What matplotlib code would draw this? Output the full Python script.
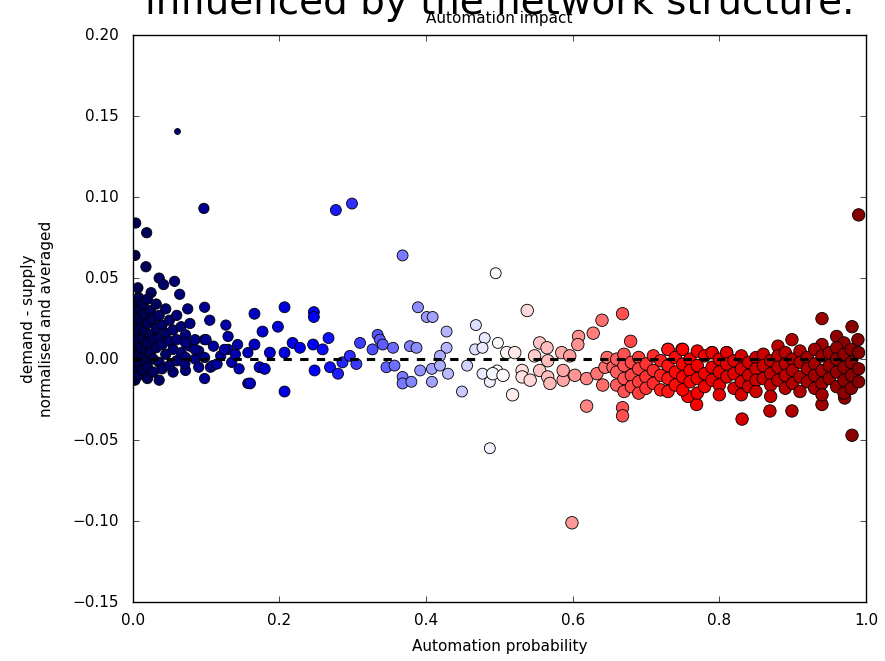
import matplotlib
matplotlib.use('Agg')
import matplotlib.pyplot as plt
import numpy as np

plt.style.use('classic')

# low automation probability (dark blue cluster)
x_low = [0.004, 0.019, 0.003, 0.018, 0.036, 0.057, 0.007, 0.025, 0.064, 0.042, 0.075, 0.098,
         0.097, 0.036, 0.055, 0.003, 0.098, 0.106,
         0.002, 0.002, 0.002, 0.002, 0.002,
         0.005, 0.005, 0.005, 0.005,
         0.008, 0.008, 0.008, 0.008, 0.008,
         0.011, 0.011, 0.011, 0.011,
         0.014, 0.014, 0.014, 0.014, 0.014,
         0.017, 0.017, 0.017, 0.017,
         0.020, 0.020, 0.020, 0.020, 0.020,
         0.024, 0.024, 0.024,
         0.028, 0.028, 0.028, 0.028,
         0.032, 0.032, 0.032,
         0.036, 0.036, 0.036,
         0.040, 0.040, 0.040,
         0.045, 0.045, 0.045,
         0.050, 0.050, 0.050,
         0.055, 0.055,
         0.060, 0.060, 0.060,
         0.066, 0.066,
         0.072, 0.072, 0.072,
         0.078, 0.078,
         0.085, 0.085,
         0.090, 0.090,
         0.072, 0.085, 0.098, 0.098, 0.109, 0.130, 0.071,
         0.105, 0.127, 0.130, 0.143, 0.157, 0.157, 0.110, 0.120, 0.115, 0.135, 0.140,
         0.100, 0.125, 0.145]
y_low = [0.084, 0.078, 0.064, 0.057, 0.050, 0.048, 0.044, 0.041, 0.040, 0.046, 0.031, 0.032,
         0.093, -0.013, -0.008, -0.013, -0.012, -0.005,
         0.035, 0.022, 0.010, 0.000, -0.008,
         0.030, 0.016, 0.005, -0.004,
         0.038, 0.025, 0.012, 0.002, -0.010,
         0.031, 0.019, 0.007, -0.003,
         0.034, 0.024, 0.013, 0.001, -0.007,
         0.028, 0.017, 0.006, -0.002,
         0.037, 0.022, 0.010, -0.005, -0.012,
         0.030, 0.015, 0.004,
         0.025, 0.012, 0.000, -0.008,
         0.034, 0.019, 0.007,
         0.027, 0.013, -0.002,
         0.021, 0.009, -0.006,
         0.031, 0.016, 0.003,
         0.024, 0.011, -0.004,
         0.018, 0.006,
         0.027, 0.012, -0.001,
         0.020, 0.004,
         0.015, 0.001, -0.007,
         0.022, 0.008,
         0.012, 0.000,
         0.005, -0.005,
         0.010, 0.006, 0.012, 0.001, -0.004, 0.006, -0.003,
         0.024, 0.021, 0.014, 0.009, 0.004, -0.015, 0.008, 0.002, -0.003, -0.002, 0.003,
         0.012, 0.006, -0.006]

# single small outlier
x_small = [0.060]
y_small = [0.141]

# blue to white region
x_mid = [0.277, 0.299, 0.166, 0.207, 0.177, 0.198, 0.247, 0.247, 0.267, 0.310, 0.334, 0.218,
         0.228, 0.166, 0.187, 0.207, 0.246, 0.259, 0.173, 0.180, 0.248, 0.269, 0.280, 0.286,
         0.296, 0.305, 0.207, 0.160, 0.327,
         0.368, 0.495, 0.389, 0.401, 0.409, 0.428, 0.468, 0.480, 0.337, 0.341, 0.355, 0.378,
         0.387, 0.428, 0.419, 0.467, 0.477, 0.346, 0.357, 0.368, 0.368, 0.380, 0.392, 0.408,
         0.408, 0.419, 0.430, 0.456, 0.449, 0.477, 0.487, 0.497, 0.487, 0.498]
y_mid = [0.092, 0.096, 0.028, 0.032, 0.017, 0.020, 0.029, 0.026, 0.013, 0.010, 0.015, 0.010,
         0.007, 0.009, 0.004, 0.004, 0.009, 0.006, -0.005, -0.006, -0.007, -0.005, -0.009, -0.002,
         0.002, -0.003, -0.020, -0.015, 0.006,
         0.064, 0.053, 0.032, 0.026, 0.026, 0.017, 0.021, 0.013, 0.012, 0.009, 0.007, 0.008,
         0.007, 0.007, 0.002, 0.006, 0.007, -0.005, -0.004, -0.011, -0.015, -0.014, -0.007, -0.006,
         -0.014, -0.004, -0.009, -0.004, -0.020, -0.009, -0.014, -0.007, -0.055, 0.010]

# white to red region
x_high = [0.538, 0.640, 0.628, 0.608, 0.607, 0.555, 0.565, 0.510, 0.521, 0.548, 0.566, 0.585,
          0.596, 0.491, 0.505, 0.531, 0.531, 0.542, 0.555, 0.566, 0.569, 0.587, 0.587, 0.603,
          0.619, 0.633, 0.644, 0.647, 0.641, 0.518, 0.619, 0.655, 0.599,
          0.668, 0.679, 0.668, 0.668, 0.730, 0.749, 0.790, 0.810,
          0.990, 0.940, 0.981, 0.899, 0.880, 0.960, 0.989, 0.970, 0.940, 0.981, 0.831, 0.869,
          0.899, 0.940, 0.971, 0.769, 0.757,
          0.660, 0.660, 0.660,
          0.670, 0.670, 0.670, 0.670,
          0.680, 0.680, 0.680,
          0.690, 0.690, 0.690, 0.690,
          0.700, 0.700, 0.700,
          0.710, 0.710, 0.710,
          0.720, 0.720, 0.720,
          0.730, 0.730, 0.730, 0.730,
          0.740, 0.740, 0.740,
          0.750, 0.750, 0.750, 0.750,
          0.760, 0.760, 0.760,
          0.770, 0.770, 0.770, 0.770,
          0.780, 0.780, 0.780,
          0.790, 0.790, 0.790,
          0.800, 0.800, 0.800, 0.800,
          0.810, 0.810, 0.810,
          0.820, 0.820, 0.820,
          0.830, 0.830, 0.830, 0.830,
          0.840, 0.840, 0.840,
          0.850, 0.850, 0.850, 0.850,
          0.860, 0.860, 0.860,
          0.870, 0.870, 0.870, 0.870,
          0.880, 0.880, 0.880,
          0.890, 0.890, 0.890, 0.890,
          0.900, 0.900, 0.900,
          0.910, 0.910, 0.910, 0.910,
          0.920, 0.920, 0.920,
          0.930, 0.930, 0.930, 0.930,
          0.940, 0.940, 0.940, 0.940,
          0.950, 0.950, 0.950,
          0.960, 0.960, 0.960, 0.960,
          0.970, 0.970, 0.970, 0.970,
          0.980, 0.980, 0.980, 0.980,
          0.990, 0.990, 0.990]
y_high = [0.030, 0.024, 0.016, 0.014, 0.009, 0.010, 0.007, 0.004, 0.004, 0.002, -0.001, 0.004,
          0.002, -0.009, -0.010, -0.007, -0.011, -0.013, -0.007, -0.011, -0.015, -0.013, -0.007, -0.010,
          -0.012, -0.009, -0.005, 0.001, -0.016, -0.022, -0.029, -0.005, -0.101,
          0.028, 0.011, -0.030, -0.035, 0.006, 0.006, 0.004, 0.004,
          0.089, 0.025, 0.020, 0.012, 0.008, 0.014, 0.012, 0.010, 0.009, -0.047, -0.037, -0.032,
          -0.032, -0.028, -0.024, -0.028, -0.023,
          0.000, -0.008, -0.016,
          0.003, -0.004, -0.012, -0.020,
          -0.002, -0.010, -0.017,
          0.001, -0.006, -0.014, -0.021,
          -0.003, -0.011, -0.018,
          0.002, -0.007, -0.015,
          -0.001, -0.010, -0.019,
          0.006, -0.004, -0.012, -0.020,
          0.001, -0.008, -0.016,
          0.006, -0.003, -0.011, -0.019,
          0.000, -0.007, -0.014,
          0.005, -0.004, -0.012, -0.021,
          0.002, -0.009, -0.017,
          0.004, -0.005, -0.013,
          0.000, -0.008, -0.016, -0.022,
          0.004, -0.003, -0.011,
          -0.001, -0.009, -0.018,
          0.002, -0.006, -0.014, -0.022,
          -0.002, -0.010, -0.017,
          0.001, -0.006, -0.013, -0.020,
          0.003, -0.004, -0.012,
          -0.001, -0.009, -0.016, -0.023,
          0.002, -0.005, -0.013,
          0.004, -0.003, -0.010, -0.018,
          0.000, -0.007, -0.015,
          0.005, -0.002, -0.011, -0.020,
          0.001, -0.006, -0.014,
          0.006, -0.003, -0.010, -0.018,
          0.002, -0.007, -0.015, -0.022,
          0.004, -0.004, -0.012,
          0.007, 0.000, -0.008, -0.017,
          0.003, -0.005, -0.013, -0.021,
          0.006, -0.002, -0.010, -0.018,
          0.004, -0.006, -0.014]

fig = plt.figure(figsize=(8.85, 6.61), dpi=100, facecolor='white')
ax = fig.add_axes([0.150, 0.089, 0.8285, 0.858])

kw = dict(cmap='seismic', vmin=0, vmax=1, edgecolors='black', linewidths=0.6)
ax.scatter(x_low, y_low, c=x_low, s=55, **kw)
ax.scatter(x_small, y_small, c=x_small, s=18, **kw)
ax.scatter(x_mid, y_mid, c=x_mid, s=62, **kw)
ax.scatter(x_high, y_high, c=x_high, s=80, **kw)

ax.axhline(0, color='black', linestyle='--', linewidth=2.2, zorder=5)

ax.set_xlim(0, 1)
ax.set_ylim(-0.15, 0.20)
ax.set_xticks([0.0, 0.2, 0.4, 0.6, 0.8, 1.0])
ax.set_yticks([-0.15, -0.10, -0.05, 0.00, 0.05, 0.10, 0.15, 0.20])
ax.tick_params(labelsize=11)
ax.tick_params(axis='x', pad=8)
ax.tick_params(axis='y', pad=10)
ax.set_title('Automation impact', fontsize=11, pad=9)
ax.set_xlabel('Automation probability', fontsize=11, labelpad=8)
ax.set_ylabel('demand - supply\nnormalised and averaged', fontsize=11)
ax.yaxis.set_label_coords(-0.108, 0.5)

fig.text(0.565, 1 - 14 / 661, 'influenced by the network structure.', fontsize=28,
         ha='center', va='baseline')

fig.savefig('out.png', dpi=100, facecolor='white')
